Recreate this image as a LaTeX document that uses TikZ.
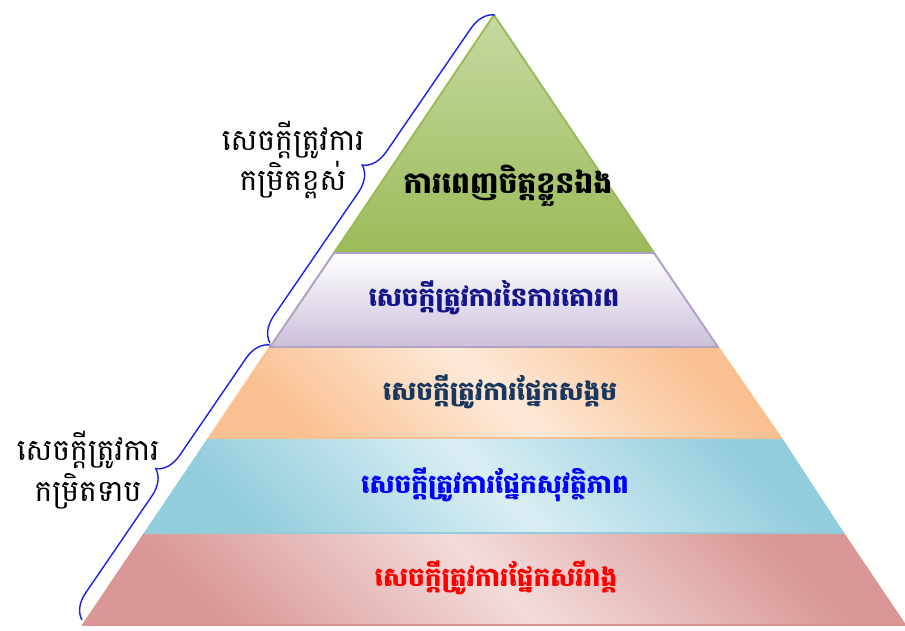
\documentclass[tikz,border=0pt]{standalone}
\usepackage{fontspec}
\usetikzlibrary{
    positioning,
    calc,
    decorations.pathreplacing
}
\newfontfamily\khmerfont[Script=Khmer]{Battambang}
\definecolor{LeafLight}{RGB}{198,217,160}
\definecolor{LeafDark}{RGB}{155,187,89}
\definecolor{LilacDark}{RGB}{204,192,218}
\definecolor{LilacLine}{RGB}{178,161,199}
\definecolor{PeachLight}{RGB}{253,233,217}
\definecolor{PeachDark}{RGB}{250,192,144}
\definecolor{AquaLight}{RGB}{218,238,243}
\definecolor{AquaDark}{RGB}{146,205,220}
\definecolor{RoseLight}{RGB}{242,220,219}
\definecolor{RoseDark}{RGB}{217,150,148}
\definecolor{NavyText}{RGB}{20,20,140}
\definecolor{SlateText}{RGB}{23,55,94}
\definecolor{BraceBlue}{RGB}{30,30,230}

\begin{document}
\begin{tikzpicture}[
    x=0.02cm, y=0.02cm,
    layer/.style={line width=1.1pt, line join=round},
    diag/.style={shading angle=-45},
    tier/.style={font=\khmerfont\bfseries\fontsize{15}{18}\selectfont, inner sep=0pt},
    side/.style={font=\khmerfont\fontsize{17}{23}\selectfont, align=center, inner sep=0pt},
    curly/.style={BraceBlue, line width=0.8pt, decorate, decoration={brace, amplitude=14pt}}
]

\useasboundingbox (0,0) rectangle (905,630);

\coordinate (apex) at (494,615);
\coordinate (L1) at (334,377); \coordinate (R1) at (654,377);
\coordinate (L2) at (270,283); \coordinate (R2) at (718,283);
\coordinate (L3) at (209,192); \coordinate (R3) at (781,192);
\coordinate (L4) at (145,97);  \coordinate (R4) at (843,97);
\coordinate (L5) at (83,5);    \coordinate (R5) at (905,5);

\draw[LeafDark, line width=0.6pt]
    (apex) -- (L5) -- (R5) -- cycle;

\draw[layer, LeafDark, top color=LeafLight, bottom color=LeafDark]
    (apex) -- (L1) -- (R1) -- cycle;

\draw[layer, RoseDark, top color=RoseDark, bottom color=RoseDark, middle color=RoseLight, diag]
    (L4) -- (L5) -- (R5) -- (R4) -- cycle;

\draw[layer, AquaDark, top color=AquaDark, bottom color=AquaDark, middle color=AquaLight, diag]
    (L3) -- (L4) -- (R4) -- (R3) -- cycle;

\draw[layer, PeachDark, top color=PeachDark, bottom color=PeachDark, middle color=PeachLight, diag]
    (L2) -- (L3) -- (R3) -- (R2) -- cycle;

\draw[layer, LilacLine, top color=white, bottom color=LilacDark]
    (L1) -- (L2) -- (R2) -- (R1) -- cycle;

\node[tier, black, font=\khmerfont\bfseries\fontsize{17}{20}\selectfont] (selfTxt) at (508,444) {ការពេញចិត្តខ្លួនឯង};
\node[tier, NavyText] (esteemTxt) at (494,332) {សេចក្តីត្រូវការនៃការគោរព};
\node[tier, SlateText] (socialTxt) at (500,238) {សេចក្តីត្រូវការផ្នែកសង្គម};
\node[tier, blue] (safetyTxt) at (495,145) {សេចក្តីត្រូវការផ្នែកសុវត្ថិភាព};
\node[tier, red] (bodyTxt) at (496,52) {សេចក្តីត្រូវការផ្នែកសរីរាង្គ};

\coordinate (hiTop) at (495,615);
\coordinate (hiLow) at (270,287);
\coordinate (loTop) at (270,285);
\coordinate (loLow) at (82,10);

\draw[curly] (hiLow) -- (hiTop);
\draw[curly] (loLow) -- (loTop);

\node[side] (highLbl) at (293,470) {សេចក្តីត្រូវការ\\កម្រិតខ្ពស់};
\node[side] (lowLbl) at (88,160) {សេចក្តីត្រូវការ\\កម្រិតទាប};

\end{tikzpicture}
\end{document}
